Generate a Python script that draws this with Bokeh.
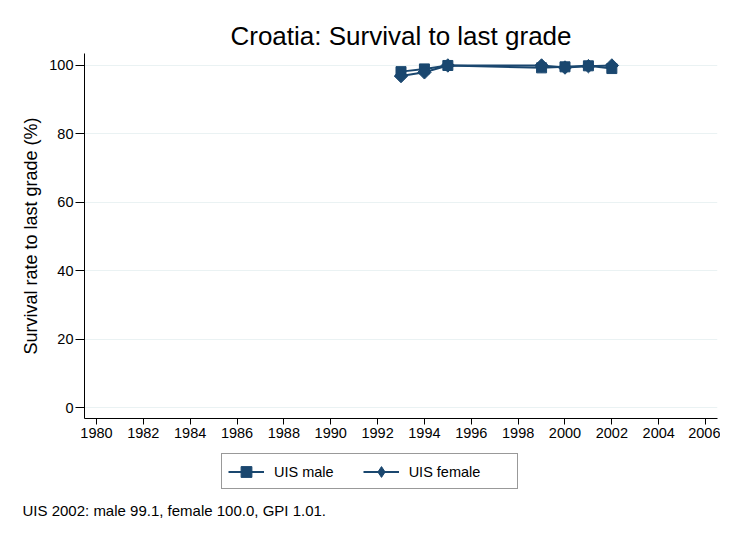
import math
from bokeh.plotting import figure
from bokeh.models import (Range1d, FixedTicker, Legend, LegendItem, Title, ColumnDataSource)
from bokeh.layouts import column
from bokeh.embed import file_html
from bokeh.resources import INLINE

years = [1993, 1994, 1995, 1999, 2000, 2001, 2002]
male = [98.2, 99.0, 100.0, 99.3, 99.6, 99.9, 99.1]
female = [96.9, 98.0, 100.0, 100.0, 99.4, 99.8, 100.0]
x_ticks = list(range(1980, 2007, 2))
y_ticks = [0, 20, 40, 60, 80, 100]
title_text = "Croatia: Survival to last grade"
y_label = "Survival rate to last grade (%)"
note_text = "UIS 2002: male 99.1, female 100.0, GPI 1.01."
series_names = ["UIS male", "UIS female"]

NAVY = "#1a476f"
FONT = "Liberation Sans"
TICK_FS = "14.5px"
DIAMOND_ANGLE = math.pi / 4

p = figure(width=720, height=453, output_backend="svg", toolbar_location=None,
           x_range=Range1d(1979.49, 2006.51), y_range=Range1d(-3.2, 103.5),
           min_border_left=84, min_border_right=3, min_border_top=53,
           min_border_bottom=35)
p.outline_line_color = None
p.background_fill_color = "white"
p.border_fill_color = "white"

p.title.text = title_text
p.title.text_font = FONT
p.title.text_font_size = "26px"
p.title.text_font_style = "normal"
p.title.text_color = "black"
p.title.align = "center"
p.title.standoff = 5

# axes
p.xaxis.ticker = FixedTicker(ticks=x_ticks)
p.yaxis.ticker = FixedTicker(ticks=y_ticks)
for ax in (p.xaxis[0], p.yaxis[0]):
    ax.axis_line_color = "black"
    ax.major_tick_line_color = "black"
    ax.minor_tick_line_color = None
    ax.major_tick_in = 0
    ax.major_label_text_font = FONT
    ax.major_label_text_font_size = TICK_FS
    ax.major_label_text_color = "black"
p.xaxis.major_tick_out = 6
p.yaxis.major_tick_out = 9
p.xaxis.major_label_standoff = 3
p.yaxis.major_label_standoff = 2
p.yaxis.axis_label = y_label
p.yaxis.axis_label_text_font = FONT
p.yaxis.axis_label_text_font_size = "18px"
p.yaxis.axis_label_text_font_style = "normal"
p.yaxis.axis_label_text_color = "black"
p.yaxis.axis_label_standoff = 5

p.xgrid.grid_line_color = None
p.ygrid.grid_line_color = "#eaf2f3"
p.ygrid.grid_line_width = 1

p.line(years, male, line_color=NAVY, line_width=2)
p.scatter(years, male, marker="square", size=10, fill_color=NAVY, line_color=NAVY)
p.line(years, female, line_color=NAVY, line_width=2)
p.scatter(years, female, marker="square", size=9.5, angle=DIAMOND_ANGLE,
          fill_color=NAVY, line_color=NAVY)

# bottom strip: legend + note
p2 = figure(width=720, height=66, output_backend="svg", toolbar_location=None,
            x_range=Range1d(0, 1), y_range=Range1d(0, 1),
            x_axis_type=None, y_axis_type=None,
            min_border_left=84, min_border_right=3, min_border_top=0, min_border_bottom=20)
p2.outline_line_color = None
p2.xgrid.grid_line_color = None
p2.ygrid.grid_line_color = None
p2.border_fill_color = "white"

hidden = ColumnDataSource(data=dict(x=[-10, -9], y=[-10, -9]))
el1 = p2.line("x", "y", source=hidden, line_color=NAVY, line_width=2)
es1 = p2.scatter("x", "y", source=hidden, marker="square", size=10, fill_color=NAVY, line_color=NAVY)
el2 = p2.line("x", "y", source=hidden, line_color=NAVY, line_width=2)
es2 = p2.scatter("x", "y", source=hidden, marker="diamond", size=14,
                 fill_color=NAVY, line_color=NAVY)

legend = Legend(items=[LegendItem(label=series_names[0], renderers=[el1, es1]),
                       LegendItem(label=series_names[1] + "\u00a0" * 8, renderers=[el2, es2])],
                location=(137, 10), orientation="horizontal",
                label_text_font=FONT, label_text_font_size=TICK_FS, label_text_color="black",
                glyph_width=36, glyph_height=27, label_standoff=10, spacing=29,
                padding=dict(left=6, right=4, top=4, bottom=3), margin=0,
                border_line_color="#333333", border_line_width=1,
                background_fill_color="white", background_fill_alpha=1.0)
p2.add_layout(legend, "center")

note = Title(text=note_text, text_font=FONT, text_font_size="15px",
             text_font_style="normal", text_color="black", align="left",
             offset=-62, standoff=0)
p2.add_layout(note, "below")

layout = column(p, p2, spacing=0)
open("out.html", "w").write(file_html(layout, INLINE))
